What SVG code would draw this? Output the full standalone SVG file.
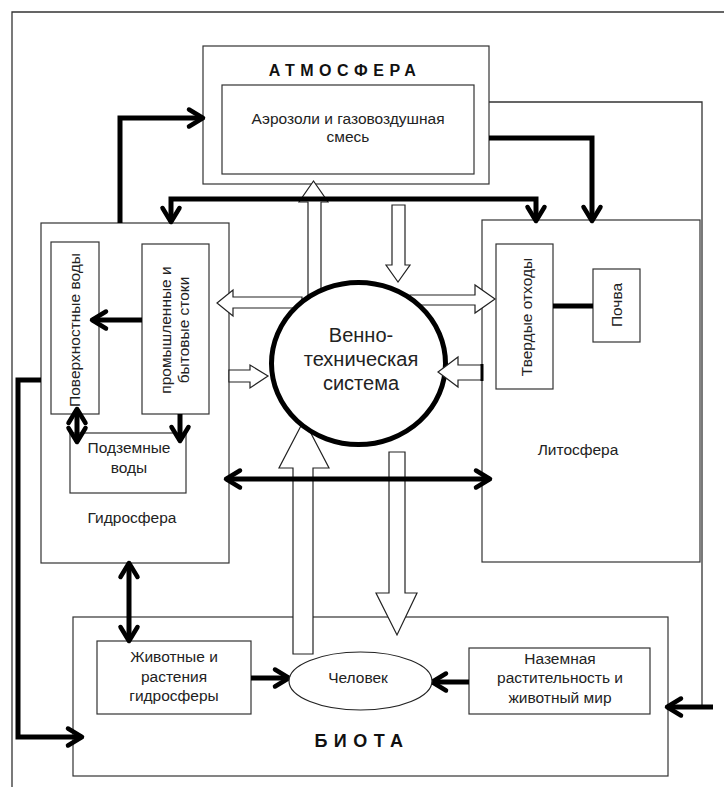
<svg xmlns="http://www.w3.org/2000/svg" width="724" height="787" viewBox="0 0 724 787">
<defs>
<style>
.box{fill:none;stroke:#333;stroke-width:1.2}
.wbox{fill:#fff;stroke:#333;stroke-width:1.2}
.t{font-family:"Liberation Sans",Arial,sans-serif;font-size:15.5px;fill:#222;text-anchor:middle}
.big{font-size:20px}
.bold{font-weight:bold;fill:#111}
.thick{fill:none;stroke:#000;stroke-width:5}
.thin{fill:none;stroke:#333;stroke-width:1.3}
.block{fill:#fff;stroke:#222;stroke-width:1.2;stroke-linejoin:miter}
</style>
<marker id="ah" markerUnits="userSpaceOnUse" markerWidth="22" markerHeight="22" viewBox="0 0 22 22" refX="18" refY="11" orient="auto-start-reverse" overflow="visible">
<path d="M4,2.5 L18,11 L4,19.5" fill="none" stroke="#000" stroke-width="4.5" stroke-linecap="round" stroke-linejoin="round"/>
</marker>
</defs>
<rect width="724" height="787" fill="#fff"/>
<!-- outer frame -->
<path class="thin" d="M12,787 V12 H724"/>

<g id="atmosphere">
<rect class="box" x="203" y="46" width="286" height="138"/>
<text class="t bold" x="345" y="76" style="font-size:16px;letter-spacing:5.5px">АТМОСФЕРА</text>
<rect class="box" x="222" y="85" width="252" height="89"/>
<text class="t" x="348" y="124">Аэрозоли и газовоздушная</text>
<text class="t" x="348" y="142">смесь</text>
</g>

<g id="hydrosphere">
<rect class="box" x="41" y="223" width="188" height="340"/>
<rect class="box" x="51" y="242" width="48" height="172"/>
<text class="t" transform="translate(80,330) rotate(-90)">Поверхностные воды</text>
<rect class="box" x="142" y="244" width="67" height="170"/>
<text class="t" transform="translate(171,330) rotate(-90)">промышленные и</text>
<text class="t" transform="translate(189,330) rotate(-90)">бытовые стоки</text>
<rect class="box" x="70" y="433" width="116" height="60"/>
<text class="t" x="129" y="453">Подземные</text>
<text class="t" x="129" y="473">воды</text>
<text class="t" x="132" y="523">Гидросфера</text>
</g>

<g id="lithosphere">
<rect class="box" x="482" y="220" width="218" height="342"/>
<rect class="box" x="496" y="244" width="57" height="145"/>
<text class="t" transform="translate(532,317) rotate(-90)">Твердые отходы</text>
<rect class="box" x="593" y="269" width="47" height="73"/>
<text class="t" transform="translate(622,305) rotate(-90)">Почва</text>
<text class="t" x="578" y="455">Литосфера</text>
</g>

<g id="biota">
<rect class="box" x="73" y="617" width="595" height="159"/>
<rect class="box" x="97" y="641" width="154" height="73"/>
<text class="t" x="174" y="662">Животные и</text>
<text class="t" x="174" y="682">растения</text>
<text class="t" x="174" y="701">гидросферы</text>
<rect class="box" x="469" y="648" width="181" height="66"/>
<text class="t" x="560" y="664">Наземная</text>
<text class="t" x="560" y="683">растительность и</text>
<text class="t" x="560" y="703">животный мир</text>
<text class="t bold" x="362" y="747" style="font-size:18px;letter-spacing:6.5px">БИОТА</text>
</g>

<g id="connectors">
<!-- block arrows -->
<polygon class="block" points="308,296 308,202 299,202 313.5,181 328,202 321,202 321,296"/>
<polygon class="block" points="392,205 405,205 405,265 410,265 398,282 386,265 392,265"/>
<polygon class="block" points="302,297 233,297 233,290 217,303 233,316 233,308 302,308"/>
<polygon class="block" points="410,295 475,295 475,285 495,299 475,313 475,305 410,305"/>
<polygon class="block" points="229,370 250,370 250,365 268,376 250,388 250,382 229,382"/>
<polygon class="block" points="293,654 293,468 279,468 304,420 329,468 313,468 313,654"/>
<polygon class="block" points="389,452 405,452 405,593 417,593 397,635 376,593 389,593"/>
<!-- thick arrows -->
<path class="thick" d="M120,223 V118 H203" marker-end="url(#ah)"/>
<path class="thick" d="M489,138 H592 V221" marker-end="url(#ah)"/>
<path class="thick" d="M171,222 V199 H536 V221" marker-start="url(#ah)" marker-end="url(#ah)"/>
<path class="thick" d="M142,320 H92" marker-end="url(#ah)"/>
<path class="thick" d="M77,409 V442" marker-start="url(#ah)" marker-end="url(#ah)"/>
<path class="thick" d="M180,414 V441" marker-end="url(#ah)"/>
<path class="thick" d="M226,479 H490" marker-start="url(#ah)" marker-end="url(#ah)"/>
<path class="thick" d="M129,563 V641" marker-start="url(#ah)" marker-end="url(#ah)"/>
<path class="thick" d="M41,380 H18 V737 H82" marker-end="url(#ah)"/>
<path class="thick" d="M251,678 H289" marker-end="url(#ah)"/>
<path class="thick" d="M469,682 H432" marker-end="url(#ah)"/>
<path class="thick" d="M553,306 H593"/>
<path class="thin" d="M489,102 H702 V707"/>
<path class="thick" d="M713,707 H667" marker-end="url(#ah)"/>
</g>

<g id="system">
<ellipse cx="358.5" cy="363.5" rx="87" ry="81" fill="#fff" stroke="#000" stroke-width="5"/>
<text class="t big" x="361" y="342">Венно-</text>
<text class="t big" x="361" y="366">техническая</text>
<text class="t big" x="361" y="390">система</text>
</g>
<polygon class="block" points="482,365 458,365 458,357 438,372 458,387 458,380 482,380"/>
<path d="M482,364 V381" stroke="#000" stroke-width="3"/>

<g id="human">
<ellipse cx="360.5" cy="681" rx="71.5" ry="29" fill="#fff" stroke="#222" stroke-width="1.2"/>
<text class="t" x="358" y="683">Человек</text>
</g>
</svg>
